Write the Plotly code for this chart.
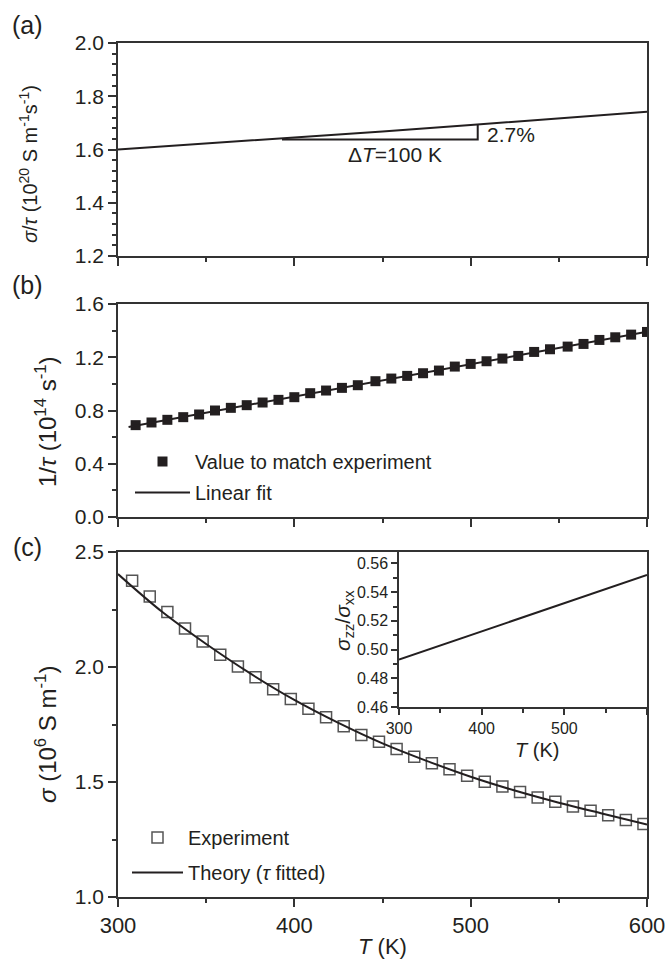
import numpy as np
import plotly.graph_objects as go

# ---------------- data ----------------
# (a) sigma/tau vs T
T_a = [300, 350, 400, 450, 500, 550, 600]
sig_tau = [1.600, 1.622, 1.645, 1.668, 1.692, 1.717, 1.742]
# triangle marking the slope (ΔT = 100 K, 2.7 %)
tri_T = [393, 504, 504]
tri_y = [1.638, 1.638, 1.692]

# (b) 1/tau values and linear fit
T_b = [310, 319, 328, 337, 346, 355, 364, 373, 382, 391, 400, 409, 418, 427, 436,
       446, 455, 464, 473, 482, 491, 500, 509, 518, 527, 536, 545, 555, 564, 573,
       582, 591, 600]
inv_tau = [0.69, 0.71, 0.73, 0.75, 0.77, 0.80, 0.82, 0.84, 0.86, 0.88, 0.90, 0.93,
           0.95, 0.97, 0.99, 1.02, 1.04, 1.06, 1.08, 1.10, 1.13, 1.15, 1.17, 1.19,
           1.21, 1.24, 1.26, 1.28, 1.30, 1.33, 1.35, 1.37, 1.39]
fit_T = [306, 600]

# (c) conductivity: experiment and theory
T_exp = [308, 318, 328, 338, 348, 358, 368, 378, 388, 398, 408, 418, 428, 438, 448,
         458, 468, 478, 488, 498, 508, 518, 528, 538, 548, 558, 568, 578, 588, 598]
sig_exp = [2.375, 2.306, 2.239, 2.167, 2.111, 2.053, 2.002, 1.955, 1.903, 1.861,
           1.819, 1.781, 1.742, 1.704, 1.675, 1.643, 1.610, 1.581, 1.555, 1.527,
           1.501, 1.480, 1.457, 1.433, 1.414, 1.393, 1.375, 1.355, 1.335, 1.317]
T_th = [300, 325, 350, 375, 400, 425, 450, 475, 500, 525, 550, 575, 600]
sig_th = [2.404, 2.240, 2.100, 1.972, 1.857, 1.757, 1.668, 1.592, 1.523, 1.463,
          1.410, 1.362, 1.315]

# inset: anisotropy ratio
T_in = [300, 400, 500, 600]
ratio = [0.493, 0.5127, 0.5323, 0.552]

# ---------------- styling ----------------
FONT = "Liberation Sans, Arial, sans-serif"
INK = "#231f20"
AX = "#333333"
W, H = 668, 960

def px_x(p):
    return p / W

def px_y(p):
    return 1 - p / H

XD = [px_x(118), px_x(647)]

fit_coef = np.polyfit(T_b, inv_tau, 1)
fit_y = list(np.polyval(fit_coef, fit_T))

fig = go.Figure()

# (a)
fig.add_trace(go.Scatter(x=T_a, y=sig_tau, mode="lines", line=dict(color=INK, width=2),
                         xaxis="x", yaxis="y", showlegend=False))
fig.add_trace(go.Scatter(x=tri_T, y=tri_y, mode="lines", line=dict(color=INK, width=2),
                         xaxis="x", yaxis="y", showlegend=False))
# (b)
fig.add_trace(go.Scatter(x=T_b, y=inv_tau, mode="markers",
                         marker=dict(symbol="square", size=10, color=INK),
                         name="Value to match experiment", legend="legend",
                         legendgroup="b1", xaxis="x2", yaxis="y2"))
fig.add_trace(go.Scatter(x=fit_T, y=fit_y, mode="lines", line=dict(color=INK, width=2),
                         name="Linear fit", legend="legend", legendgroup="b2",
                         xaxis="x2", yaxis="y2"))
# (c)
fig.add_trace(go.Scatter(x=T_exp, y=sig_exp, mode="markers",
                         marker=dict(symbol="square-open", size=11, color="#555555",
                                     line=dict(width=1.5)),
                         name="Experiment", legend="legend2", legendgroup="c1",
                         xaxis="x3", yaxis="y3"))
fig.add_trace(go.Scatter(x=T_th, y=sig_th, mode="lines",
                         line=dict(color=INK, width=2, shape="spline"),
                         name="Theory (<i>τ</i> fitted)", legend="legend2",
                         legendgroup="c2", xaxis="x3", yaxis="y3"))
# inset
fig.add_trace(go.Scatter(x=T_in, y=ratio, mode="lines", line=dict(color=INK, width=2),
                         xaxis="x4", yaxis="y4", showlegend=False))


def xaxis(domain, anchor, labels, fs=21):
    return dict(domain=domain, anchor=anchor, range=[300, 600], tickmode="array",
                tickvals=[300, 400, 500, 600],
                ticktext=["300", "400", "500", "600"] if labels else ["", "", "", ""],
                showticklabels=labels, ticks="outside", ticklen=8, tickwidth=1.5,
                tickcolor=AX, minor=dict(tickvals=[350, 450, 550], ticks="outside",
                                         ticklen=4, tickwidth=1.5, tickcolor=AX),
                showline=True, linecolor=AX, linewidth=1.5, mirror=True,
                showgrid=False, zeroline=False, automargin=False,
                tickfont=dict(family=FONT, size=fs, color=INK))


def yaxis(domain, anchor, rng, dt, mdt, fmt, fs=21, ticklen=8):
    return dict(domain=domain, anchor=anchor, range=rng, dtick=dt, tick0=rng[0],
                tickformat=fmt, ticks="outside", ticklen=ticklen, tickwidth=1.5,
                tickcolor=AX,
                minor=dict(dtick=mdt, tick0=rng[0], ticks="outside", ticklen=4,
                           tickwidth=1.5, tickcolor=AX),
                showline=True, linecolor=AX, linewidth=1.5, mirror=True,
                showgrid=False, zeroline=False, automargin=False,
                tickfont=dict(family=FONT, size=fs, color=INK))


fig.update_layout(
    template="none",
    width=W, height=H, margin=dict(l=0, r=0, t=0, b=0, pad=0, autoexpand=False),
    paper_bgcolor="white", plot_bgcolor="white",
    font=dict(family=FONT, color=INK),
    xaxis=xaxis(XD, "y", False),
    yaxis=yaxis([px_y(256), px_y(43)], "x", [1.2, 2.0], 0.2, 0.04, ".1f"),
    xaxis2=xaxis(XD, "y2", False),
    yaxis2=yaxis([px_y(517), px_y(304)], "x2", [0.0, 1.6], 0.4, 0.2, ".1f"),
    xaxis3=xaxis(XD, "y3", True, fs=22),
    yaxis3=yaxis([px_y(897), px_y(552)], "x3", [1.0, 2.5], 0.5, 0.25, ".1f"),
    xaxis4=dict(xaxis([px_x(399), px_x(647)], "y4", True, fs=16),
                ticktext=["300", "400", "500", ""], ticklen=6),
    yaxis4=yaxis([px_y(707), px_y(552)], "x4", [0.46, 0.568], 0.02, 0.01, ".2f",
                 fs=16, ticklen=6),
    legend=dict(x=px_x(130), y=px_y(442), xanchor="left", yanchor="top",
                bgcolor="rgba(0,0,0,0)", itemwidth=55, tracegroupgap=2,
                font=dict(family=FONT, size=20, color=INK)),
    legend2=dict(x=px_x(127), y=px_y(818), xanchor="left", yanchor="top",
                 bgcolor="rgba(0,0,0,0)", itemwidth=51, tracegroupgap=6,
                 font=dict(family=FONT, size=20, color=INK)),
)

ann = []
# panel labels
for txt, yy in [("(a)", 25), ("(b)", 285), ("(c)", 547)]:
    ann.append(dict(text=txt, x=px_x(27), y=px_y(yy), xref="paper", yref="paper",
                    xanchor="center", yanchor="middle", showarrow=False,
                    font=dict(family=FONT, size=25, color=INK)))
# y titles
for txt, xx, yy, fs in [
    ("<i>σ</i>/<i>τ</i> (10<sup>20</sup> S m<sup>-1</sup>s<sup>-1</sup>)", 28, 164, 20),
    ("1/<i>τ</i> (10<sup>14</sup> s<sup>-1</sup>)", 46, 422, 24),
    ("<i>σ</i> (10<sup>6</sup> S m<sup>-1</sup>)", 46, 735, 24),
]:
    ann.append(dict(text=txt, x=px_x(xx), y=px_y(yy), xref="paper", yref="paper",
                    xanchor="center", yanchor="middle", textangle=-90, showarrow=False,
                    font=dict(family=FONT, size=fs, color=INK)))
# x title main
ann.append(dict(text="<i>T</i> (K)", x=px_x(382), y=px_y(946), xref="paper", yref="paper",
                xanchor="center", yanchor="middle", showarrow=False,
                font=dict(family=FONT, size=22, color=INK)))
# inset titles
ann.append(dict(text="<i>T</i> (K)", x=px_x(537), y=px_y(750), xref="paper", yref="paper",
                xanchor="center", yanchor="middle", showarrow=False,
                font=dict(family=FONT, size=20, color=INK)))
ann.append(dict(text="<i>σ</i><sub>zz</sub>/<i>σ</i><sub>xx</sub>", x=px_x(344),
                y=px_y(620), xref="paper", yref="paper", xanchor="center",
                yanchor="middle", textangle=-90, showarrow=False,
                font=dict(family=FONT, size=21, color=INK)))
# slope annotations in (a)
ann.append(dict(text="2.7%", x=508, y=1.656, xref="x", yref="y", xanchor="left",
                yanchor="middle", showarrow=False,
                font=dict(family=FONT, size=21, color=INK)))
ann.append(dict(text="Δ<i>T</i>=100 K", x=457, y=1.583, xref="x", yref="y",
                xanchor="center", yanchor="middle", showarrow=False,
                font=dict(family=FONT, size=21, color=INK)))
fig.update_layout(annotations=ann)

fig.write_html(
    "out.html",
    post_script="document.body.style.margin='0';document.body.style.padding='0';"
                "document.documentElement.style.overflow='hidden';",
)
